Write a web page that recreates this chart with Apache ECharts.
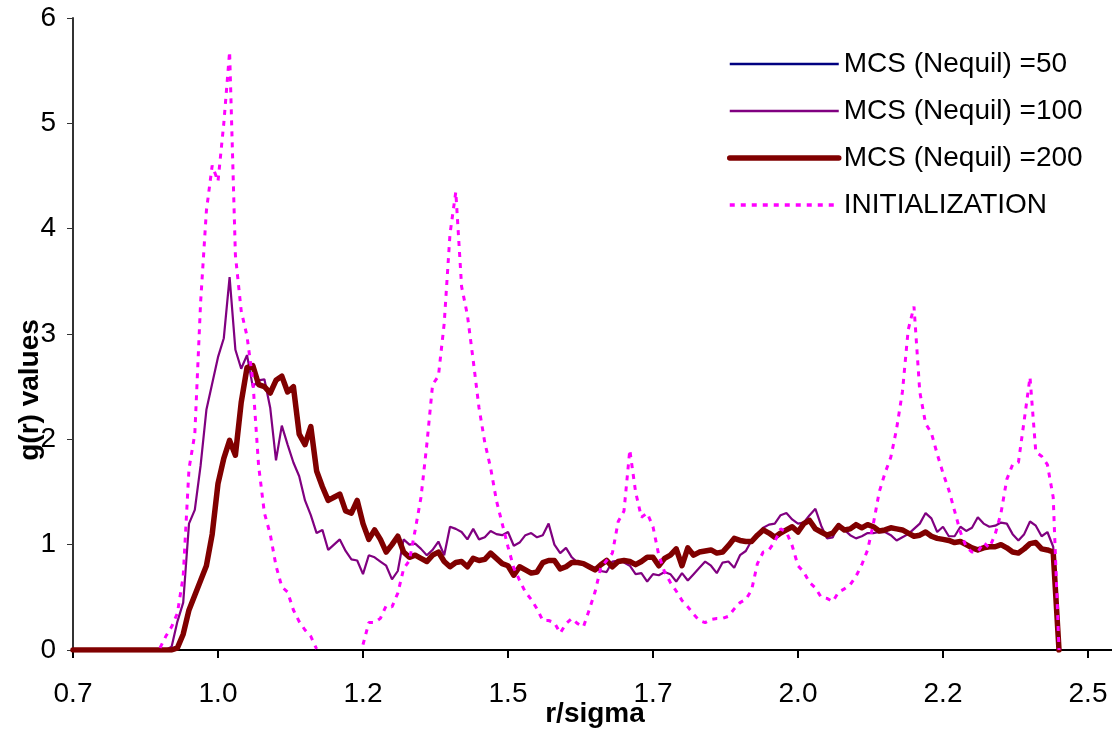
<!DOCTYPE html>
<html><head><meta charset="utf-8">
<script src="https://cdn.jsdelivr.net/npm/echarts@6/dist/echarts.min.js"></script>
<style>html,body{margin:0;padding:0;background:#fff}#chart{width:1112px;height:731px}</style>
</head><body><div id="chart"></div>
<script>
// r/sigma sample positions
const rValues = [0.70,
 0.85,0.86,0.87,0.88,0.89,0.90,0.91,0.92,0.93,0.94,
 0.95,0.96,0.97,0.98,0.99,1.00,1.01,1.02,1.03,1.04,
 1.05,1.06,1.07,1.08,1.09,1.10,1.11,1.12,1.13,1.14,
 1.15,1.16,1.17,1.18,1.19,1.20,1.21,1.22,1.23,1.24,
 1.25,1.26,1.27,1.28,1.29,1.30,1.31,1.32,1.33,1.34,
 1.35,1.36,1.37,1.38,1.39,1.40,1.41,1.42,1.43,1.44,
 1.45,1.46,1.47,1.48,1.49,1.50,1.51,1.52,1.53,1.54,
 1.55,1.56,1.57,1.58,1.59,1.60,1.61,1.62,1.63,1.64,
 1.65,1.66,1.67,1.68,1.69,1.70,1.71,1.72,1.73,1.74,
 1.75,1.76,1.77,1.78,1.79,1.80,1.81,1.82,1.83,1.84,
 1.85,1.86,1.87,1.88,1.89,1.90,1.91,1.92,1.93,1.94,
 1.95,1.96,1.97,1.98,1.99,2.00,2.01,2.02,2.03,2.04,
 2.05,2.06,2.07,2.08,2.09,2.10,2.11,2.12,2.13,2.14,
 2.15,2.16,2.17,2.18,2.19,2.20,2.21,2.22,2.23,2.24,
 2.25,2.26,2.27,2.28,2.29,2.30,2.31,2.32,2.33,2.34,
 2.35,2.36,2.37,2.38,2.39,2.40];

// MCS (Nequil) = 200  (thick dark red)
const gMcs200 = [0,
 0,0,0,0.02,0.15,0.38,0.52,0.66,0.8,1.1,
 1.58,1.82,1.99,1.85,2.35,2.68,2.7,2.52,2.5,2.44,
 2.56,2.6,2.45,2.5,2.05,1.95,2.12,1.7,1.55,1.42,
 1.45,1.48,1.32,1.3,1.42,1.2,1.05,1.14,1.05,0.93,
 1.0,1.08,0.93,0.88,0.9,0.87,0.84,0.9,0.93,0.84,
 0.79,0.83,0.84,0.79,0.87,0.85,0.86,0.92,0.87,0.82,
 0.8,0.71,0.79,0.76,0.73,0.74,0.83,0.85,0.85,0.77,
 0.79,0.83,0.83,0.82,0.79,0.76,0.81,0.85,0.79,0.84,
 0.85,0.84,0.81,0.84,0.88,0.88,0.8,0.87,0.9,0.96,
 0.8,0.97,0.9,0.93,0.94,0.95,0.92,0.93,0.99,1.06,
 1.04,1.03,1.03,1.09,1.14,1.11,1.07,1.11,1.14,1.17,
 1.12,1.2,1.23,1.15,1.12,1.09,1.11,1.18,1.14,1.15,
 1.19,1.16,1.19,1.17,1.13,1.14,1.16,1.15,1.14,1.11,
 1.08,1.09,1.12,1.08,1.06,1.05,1.04,1.02,1.03,1.0,
 0.97,0.95,0.97,0.98,0.98,1.0,0.97,0.93,0.92,0.96,
 1.01,1.02,0.96,0.95,0.93,0];

// MCS (Nequil) = 50  (navy; lies entirely beneath the 200 curve in the picture)
const gMcs50 = [0,
 0,0,0,0.02,0.15,0.38,0.52,0.66,0.8,1.1,
 1.58,1.82,1.99,1.85,2.35,2.68,2.7,2.52,2.5,2.44,
 2.56,2.6,2.45,2.5,2.05,1.95,2.12,1.7,1.55,1.42,
 1.45,1.48,1.32,1.3,1.42,1.2,1.05,1.14,1.05,0.93,
 1.0,1.08,0.93,0.88,0.9,0.87,0.84,0.9,0.93,0.84,
 0.79,0.83,0.84,0.79,0.87,0.85,0.86,0.92,0.87,0.82,
 0.8,0.71,0.79,0.76,0.73,0.74,0.83,0.85,0.85,0.77,
 0.79,0.83,0.83,0.82,0.79,0.76,0.81,0.85,0.79,0.84,
 0.85,0.84,0.81,0.84,0.88,0.88,0.8,0.87,0.9,0.96,
 0.8,0.97,0.9,0.93,0.94,0.95,0.92,0.93,0.99,1.06,
 1.04,1.03,1.03,1.09,1.14,1.11,1.07,1.11,1.14,1.17,
 1.12,1.2,1.23,1.15,1.12,1.09,1.11,1.18,1.14,1.15,
 1.19,1.16,1.19,1.17,1.13,1.14,1.16,1.15,1.14,1.11,
 1.08,1.09,1.12,1.08,1.06,1.05,1.04,1.02,1.03,1.0,
 0.97,0.95,0.97,0.98,0.98,1.0,0.97,0.93,0.92,0.96,
 1.01,1.02,0.96,0.95,0.93,0];

// MCS (Nequil) = 100  (thin purple)
const gMcs100 = [0,
 0,0,0.03,0.27,0.45,1.2,1.33,1.75,2.28,2.53,
 2.78,2.96,3.54,2.85,2.67,2.8,2.5,2.56,2.57,2.3,
 1.8,2.13,1.95,1.78,1.65,1.42,1.28,1.11,1.14,0.95,
 1.0,1.05,0.94,0.86,0.85,0.72,0.9,0.88,0.84,0.8,
 0.67,0.75,1.05,1.0,1.01,0.96,0.9,0.95,1.03,0.9,
 1.17,1.15,1.12,1.05,1.15,1.05,1.07,1.13,1.1,1.09,
 1.12,0.99,1.02,1.09,1.11,1.07,1.09,1.2,1.0,0.92,
 0.97,0.88,0.83,0.82,0.8,0.78,0.75,0.74,0.84,0.85,
 0.83,0.8,0.72,0.73,0.65,0.72,0.71,0.74,0.72,0.65,
 0.73,0.66,0.72,0.78,0.84,0.8,0.73,0.83,0.84,0.78,
 0.9,0.94,1.04,1.1,1.16,1.19,1.2,1.28,1.3,1.24,
 1.2,1.21,1.28,1.34,1.18,1.06,1.07,1.2,1.14,1.09,
 1.06,1.08,1.11,1.11,1.12,1.12,1.09,1.04,1.07,1.1,
 1.15,1.2,1.3,1.25,1.12,1.17,1.08,1.08,1.17,1.13,
 1.16,1.26,1.2,1.17,1.18,1.21,1.2,1.1,1.04,1.1,
 1.22,1.18,1.08,1.12,0.98,0];

// INITIALIZATION  (magenta dashed; blank where no value is drawn)
const gInit = [null,
 0.02,0.13,0.22,0.35,0.7,1.72,2.05,3.3,4.17,4.6,
 4.45,5.0,5.68,3.75,3.22,2.98,2.56,1.75,1.3,1.1,
 0.8,0.6,0.55,0.38,0.27,0.19,0.13,0.01,null,null,
 null,null,null,null,null,0.05,0.26,0.26,0.3,0.42,
 0.41,0.54,0.77,0.85,1.14,1.45,1.95,2.52,2.6,3.1,
 3.95,4.35,3.45,3.18,2.75,2.3,1.97,1.73,1.42,1.2,
 0.98,0.78,0.66,0.55,0.48,0.39,0.28,0.28,0.26,0.16,
 0.25,0.3,0.25,0.22,0.38,0.55,0.78,0.85,0.92,1.22,
 1.32,1.9,1.5,1.26,1.3,1.17,0.9,0.74,0.64,0.56,
 0.47,0.41,0.34,0.28,0.26,0.29,0.3,0.3,0.32,0.39,
 0.45,0.48,0.57,0.82,0.93,0.95,1.03,1.15,1.12,0.99,
 0.8,0.74,0.64,0.59,0.5,0.49,0.46,0.55,0.58,0.62,
 0.7,0.81,0.95,1.2,1.5,1.68,1.83,2.1,2.45,3.04,
 3.26,2.45,2.15,2.06,1.86,1.68,1.52,1.32,1.12,0.98,
 0.93,0.93,1.02,0.97,1.1,1.3,1.62,1.76,1.78,2.18,
 2.59,1.88,1.84,1.76,1.45,0];

const seriesNames = ['MCS (Nequil) =50', 'MCS (Nequil) =100', 'MCS (Nequil) =200', 'INITIALIZATION'];
const xTickLabels = ['0.7', '1.0', '1.2', '1.5', '1.7', '2.0', '2.2', '2.5'];
const yTickLabels = ['0', '1', '2', '3', '4', '5', '6'];
const xAxisTitle = 'r/sigma';
const yAxisTitle = 'g(r) values';

const pairs = arr => rValues.map((r, i) => [r, arr[i]]);
const FONT = '"Liberation Sans", Arial, sans-serif';

const chart = echarts.init(document.getElementById('chart'), null, {renderer: 'canvas'});
chart.setOption({
  animation: false,
  backgroundColor: '#ffffff',
  grid: {left: 73, top: 18, right: -5, bottom: 81, containLabel: false, outerBoundsMode: 'none'},
  xAxis: {
    type: 'value', min: 0.7, max: 2.5, interval: 0.25,
    name: xAxisTitle, nameLocation: 'middle', nameGap: 50, nameMoveOverlap: false,
    nameTextStyle: {fontFamily: FONT, fontSize: 28, fontWeight: 'bold', color: '#000'},
    axisLine: {show: true, onZero: false, lineStyle: {color: '#000', width: 2}},
    axisTick: {show: true, length: 8, inside: false, lineStyle: {color: '#000', width: 2}},
    axisLabel: {
      fontFamily: FONT, fontSize: 28, color: '#000', margin: 30, showMaxLabel: false,
      formatter: v => { const k = Math.round((v - 0.7) / 0.25); return xTickLabels[k] !== undefined ? xTickLabels[k] : ''; }
    },
    splitLine: {show: false}
  },
  yAxis: {
    type: 'value', min: 0, max: 6, interval: 1,
    axisLine: {show: true, lineStyle: {color: '#333', width: 2}},
    axisTick: {show: true, length: 6, lineStyle: {color: '#333', width: 1}},
    axisLabel: {fontFamily: FONT, fontSize: 28, color: '#000', margin: 17,
      formatter: v => yTickLabels[Math.round(v)]},
    splitLine: {show: false}
  },
  legend: {
    orient: 'vertical', left: 722, top: 45,
    itemWidth: 109, itemHeight: 14, itemGap: 19,
    itemStyle: {opacity: 0},
    textStyle: {fontFamily: FONT, fontSize: 28, color: '#000', lineHeight: 28},
    data: [
      {name: seriesNames[0], lineStyle: {width: 2.5}, itemStyle: {opacity: 0}},
      {name: seriesNames[1], lineStyle: {width: 2.5}, itemStyle: {opacity: 0}},
      {name: seriesNames[2], lineStyle: {width: 5.5, cap: 'round'}, itemStyle: {opacity: 0}},
      {name: seriesNames[3], lineStyle: {width: 3.5}, itemStyle: {opacity: 0}}
    ]
  },
  graphic: [{
    type: 'text', x: 30, y: 390, rotation: Math.PI / 2,
    style: {text: yAxisTitle, font: 'bold 28px "Liberation Sans", Arial, sans-serif', fill: '#000', align: 'center', verticalAlign: 'middle'}
  }],
  series: [
    {name: seriesNames[0], type: 'line', data: pairs(gMcs50), symbol: 'none', z: 2,
     lineStyle: {color: '#000080', width: 2}, itemStyle: {color: '#000080'}},
    {name: seriesNames[1], type: 'line', data: pairs(gMcs100), symbol: 'none', z: 3,
     lineStyle: {color: '#800080', width: 2.2}, itemStyle: {color: '#800080'}},
    {name: seriesNames[2], type: 'line', data: pairs(gMcs200), symbol: 'none', z: 4,
     lineStyle: {color: '#800000', width: 5.5, cap: 'round', join: 'round'}, itemStyle: {color: '#800000'}},
    {name: seriesNames[3], type: 'line', data: pairs(gInit), symbol: 'none', z: 5, connectNulls: false,
     lineStyle: {color: '#ff00ff', width: 3, type: [5, 6]}, itemStyle: {color: '#ff00ff'}}
  ]
});
</script>
</body></html>
